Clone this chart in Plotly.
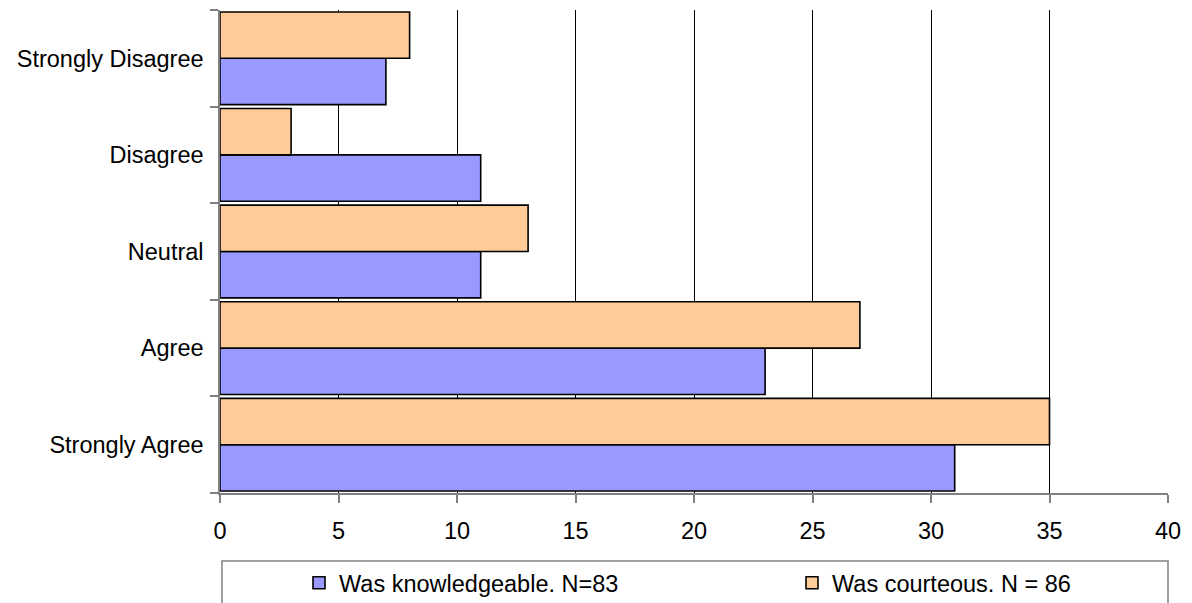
import plotly.graph_objects as go

# Survey response categories, listed bottom-to-top on the chart
categories = ["Strongly Agree", "Agree", "Neutral", "Disagree", "Strongly Disagree"]
knowledgeable = [31, 23, 11, 11, 7]
courteous = [35, 27, 13, 3, 8]
x_ticks = [0, 5, 10, 15, 20, 25, 30, 35, 40]

FONT = "Liberation Sans, Arial, sans-serif"
FS = 23.5
W, H = 1192, 603
L, R, T, B = 220, 24, 10, 110
plot_w = W - L - R
plot_h = H - T - B


def px_x(p):
    return (p - L) / plot_w


def px_y(p):
    return (H - B - p) / plot_h


fig = go.Figure()
fig.add_trace(go.Bar(
    y=categories, x=knowledgeable, orientation="h",
    name="Was knowledgeable. N=83", legend="legend",
    marker=dict(color="#9999FF", line=dict(color="#000000", width=1.6)),
))
fig.add_trace(go.Bar(
    y=categories, x=courteous, orientation="h",
    name="Was courteous. N = 86", legend="legend2",
    marker=dict(color="#FFCC99", line=dict(color="#000000", width=1.6)),
))

# Legend frame spanning the width below the axis
fig.add_shape(type="rect", xref="paper", yref="paper",
              x0=px_x(222), x1=px_x(1168), y0=px_y(640), y1=px_y(561),
              line=dict(color="#808080", width=1.5), fillcolor="rgba(0,0,0,0)")

legend_style = dict(
    orientation="h", xanchor="left", yanchor="middle",
    yref="container", y=1 - 583 / H,
    font=dict(family=FONT, size=FS, color="#000000"),
    bgcolor="rgba(0,0,0,0)", borderwidth=0,
    itemclick=False, itemdoubleclick=False,
)

fig.update_layout(
    width=W, height=H,
    margin=dict(l=L, r=R, t=T, b=B, pad=0, autoexpand=False),
    paper_bgcolor="white", plot_bgcolor="white",
    barmode="group", bargap=0.04, bargroupgap=0,
    font=dict(family=FONT, size=FS, color="#000000"),
    showlegend=True,
    legend=dict(x=px_x(299), **legend_style),
    legend2=dict(x=px_x(792), **legend_style),
    xaxis=dict(
        range=[0, 40], tickvals=x_ticks, ticktext=[str(v) for v in x_ticks],
        showgrid=True, gridcolor="#000000", gridwidth=1,
        showline=True, linecolor="#808080", linewidth=1.5,
        ticks="outside", ticklen=8, tickcolor="#808080", tickwidth=1.5,
        ticklabelstandoff=8,
        zeroline=False, fixedrange=True,
    ),
    yaxis=dict(
        type="category", categoryorder="array", categoryarray=categories,
        showline=True, linecolor="#808080", linewidth=1.5,
        ticks="outside", tickson="boundaries", ticklen=8,
        tickcolor="#808080", tickwidth=1.5, ticklabelstandoff=10,
        showgrid=False, zeroline=False, fixedrange=True,
    ),
)

fig.write_html("out.html", config={"displayModeBar": False})
